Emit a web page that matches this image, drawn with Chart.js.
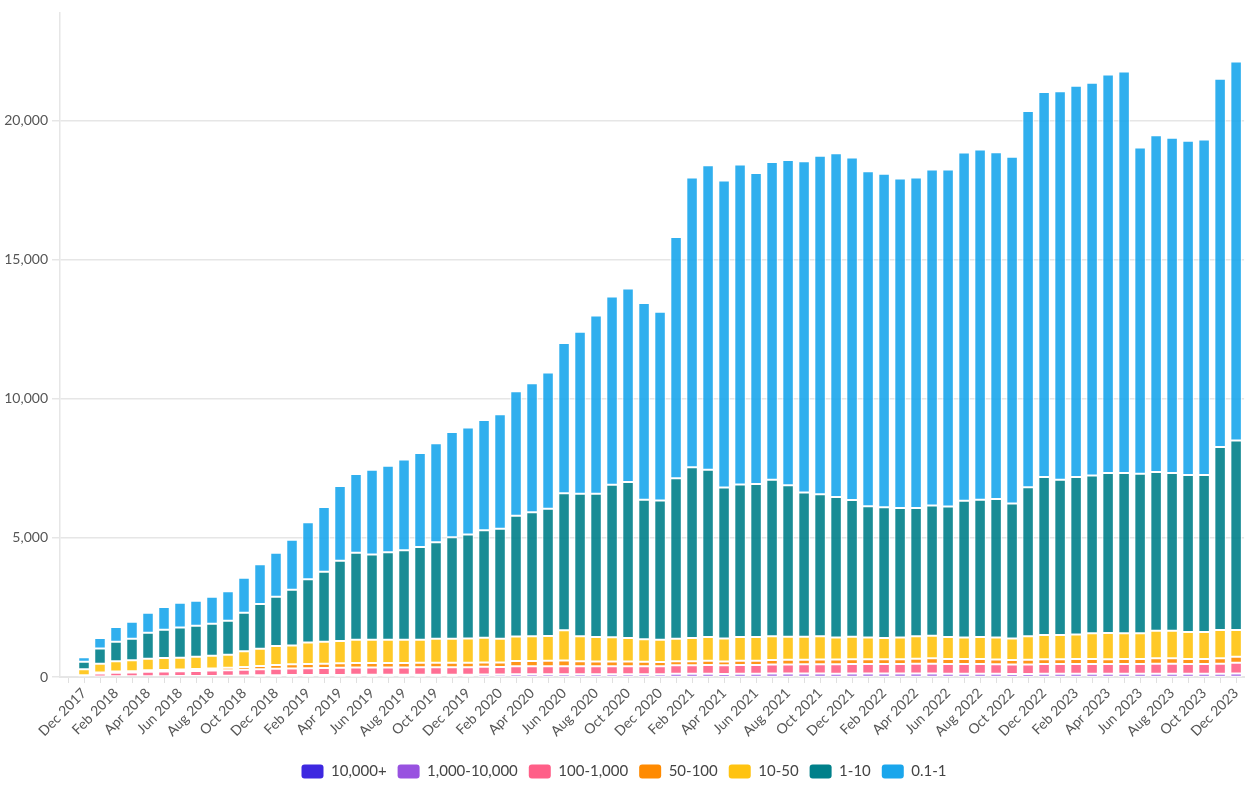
<!DOCTYPE html>
<html>
<head>
<meta charset="utf-8">
<script src="https://cdn.jsdelivr.net/npm/chart.js@4.4.1/dist/chart.umd.min.js"></script>
<style>
  html, body { margin: 0; padding: 0; background: #fff; }
  #wrap { width: 1250px; height: 785px; position: relative; }
</style>
</head>
<body>
<div id="wrap"><canvas id="chart"></canvas></div>
<script>
// monthly categories, first one is an empty slot before the data starts
const months = [
  'Nov 2017','Dec 2017',
  'Jan 2018','Feb 2018','Mar 2018','Apr 2018','May 2018','Jun 2018','Jul 2018','Aug 2018','Sep 2018','Oct 2018','Nov 2018','Dec 2018',
  'Jan 2019','Feb 2019','Mar 2019','Apr 2019','May 2019','Jun 2019','Jul 2019','Aug 2019','Sep 2019','Oct 2019','Nov 2019','Dec 2019',
  'Jan 2020','Feb 2020','Mar 2020','Apr 2020','May 2020','Jun 2020','Jul 2020','Aug 2020','Sep 2020','Oct 2020','Nov 2020','Dec 2020',
  'Jan 2021','Feb 2021','Mar 2021','Apr 2021','May 2021','Jun 2021','Jul 2021','Aug 2021','Sep 2021','Oct 2021','Nov 2021','Dec 2021',
  'Jan 2022','Feb 2022','Mar 2022','Apr 2022','May 2022','Jun 2022','Jul 2022','Aug 2022','Sep 2022','Oct 2022','Nov 2022','Dec 2022',
  'Jan 2023','Feb 2023','Mar 2023','Apr 2023','May 2023','Jun 2023','Jul 2023','Aug 2023','Sep 2023','Oct 2023','Nov 2023','Dec 2023'
];
// labelled y ticks; the axis runs up to yMax with no label there
const yTicks = [0, 5000, 10000, 15000, 20000];
const yMax = 23900;

const over10000 = [null,
  0,
  0,0,0,0,0,0,0,0,0,0,5,5,
  5,5,5,5,5,5,5,5,5,5,5,5,
  5,5,10,10,10,10,10,10,10,10,10,10,
  10,10,10,10,10,10,10,10,10,10,10,10,
  10,10,10,10,10,10,10,10,10,10,10,10,
  10,10,10,10,10,10,10,10,10,10,10,10
];
const r1000to10000 = [null,
  15,
  20,25,25,30,30,35,35,40,45,50,55,60,
  65,65,70,70,75,75,75,75,80,80,80,80,
  85,85,85,85,90,90,90,90,85,85,85,90,
  110,110,110,100,110,110,120,120,120,120,110,120,
  120,120,120,120,120,110,110,110,110,100,100,110,
  110,110,110,110,110,110,110,110,110,110,110,120
];
const r100to1000 = [null,
  30,
  110,130,140,160,170,175,180,190,200,210,220,230,
  240,245,250,255,260,260,265,265,265,270,270,270,
  275,270,290,290,290,290,290,290,290,290,290,290,
  300,300,310,310,310,310,320,320,330,330,340,340,
  340,340,340,350,350,350,350,350,340,340,340,350,
  350,350,350,350,350,350,360,360,350,350,360,380
];
const r50to100 = [null,
  20,
  30,40,45,50,55,60,70,75,85,100,120,140,
  145,150,155,160,160,160,160,160,160,160,160,160,
  160,160,190,190,190,200,180,170,170,170,160,150,
  150,150,150,140,150,150,160,170,160,170,170,170,
  170,170,170,180,190,180,180,180,170,160,170,170,
  170,180,180,170,180,180,190,190,180,180,190,220
];
const r10to50 = [null,
  210,
  319,368,389,418,427,424,445,461,472,562,617,678,
  682,780,789,803,841,841,835,831,826,860,860,873,
  888,855,877,890,898,1093,895,879,871,846,817,796,
  804,834,854,829,854,854,855,830,830,835,790,810,
  780,764,780,805,810,784,769,784,789,779,845,870,
  870,875,920,946,920,920,991,991,966,966,1021,961
];
const r1to10 = [null,
  276,
  550,706,778,934,1018,1090,1113,1149,1221,1388,1604,1772,
  1999,2274,2514,2885,3124,3064,3150,3226,3341,3469,3649,3739,
  3868,3958,4343,4459,4574,4922,5127,5153,5487,5615,5012,5012,
  5776,6139,6018,5429,5489,5504,5624,5443,5186,5111,5050,4915,
  4718,4704,4658,4613,4688,4701,4923,4938,4983,4847,5360,5678,
  5587,5663,5678,5753,5769,5738,5708,5678,5647,5647,6584,6810
];
const r01to1 = [null,
  155,
  371,527,610,718,814,885,898,970,1065,1257,1437,1580,
  1796,2047,2334,2693,2837,3052,3110,3264,3380,3560,3791,3842,
  3958,4112,4485,4639,4896,5410,5821,6412,6772,6952,7080,6785,
  8670,10417,10948,11038,11507,11190,11431,11703,11914,12171,12367,12321,
  12050,11989,11853,11882,12080,12115,12518,12594,12473,12473,13530,13846,
  13968,14073,14119,14330,14435,11733,12110,12049,12020,12065,13243,13636
];

const seriesNames = ['10,000+','1,000-10,000','100-1,000','50-100','10-50','1-10','0.1-1'];
const seriesData = [over10000, r1000to10000, r100to1000, r50to100, r10to50, r1to10, r01to1];
const solidColors = ['#3d28e0','#9852e0','#ff5f88','#ff8a00','#ffc310','#00808a','#1aa6ec'];
const barColors = ['rgba(61,40,224,0.9)','rgba(152,82,224,0.9)','rgba(255,95,136,0.9)','rgba(255,138,0,0.9)',
                   'rgba(255,195,16,0.9)','rgba(0,128,138,0.9)','rgba(26,166,236,0.9)'];

const fontFam = 'Lato, "Open Sans", sans-serif';
const textCol = '#555';
const gridCol = '#e6e6e6';

const datasets = seriesNames.map((name, i) => ({
  label: name,
  data: seriesData[i],
  backgroundColor: barColors[i],
  borderColor: '#fff',
  borderWidth: 1,
  borderSkipped: false
}));

new Chart(document.getElementById('chart'), {
  type: 'bar',
  data: { labels: months, datasets },
  options: {
    responsive: true,
    maintainAspectRatio: false,
    animation: false,
    layout: { padding: { top: 9, right: 2, left: 0, bottom: -4 } },
    scales: {
      x: {
        stacked: true,
        afterFit: s => { s.height = 76; },
        grid: { display: true, drawOnChartArea: false, drawTicks: true, tickLength: 6, offset: false, color: '#e0e0e0' },
        border: { display: true, color: gridCol, width: 2 },
        ticks: {
          autoSkip: false, maxRotation: 45, minRotation: 45, padding: 2,
          color: textCol, font: { family: fontFam, size: 14 },
          callback: (v, i) => (i % 2 === 1 ? months[i] : '')
        }
      },
      y: {
        stacked: true,
        min: 0, max: yMax,
        afterFit: s => { s.width = 60; },
        afterBuildTicks: axis => { axis.ticks = yTicks.concat([yMax]).map(v => ({ value: v })); },
        grid: {
          lineWidth: 1.5, tickLength: 8,
          color: ctx => (ctx.tick && ctx.tick.value === yMax ? 'rgba(0,0,0,0)' : gridCol)
        },
        border: { display: true, color: gridCol, width: 1.5 },
        ticks: {
          padding: 4, autoSkip: false,
          color: textCol, font: { family: fontFam, size: 14 },
          callback: v => (v === yMax ? '' : v.toLocaleString('en-US'))
        }
      }
    },
    plugins: {
      legend: {
        position: 'bottom',
        labels: {
          boxWidth: 22, boxHeight: 14, useBorderRadius: true, borderRadius: 3,
          padding: 11, color: '#444', font: { family: fontFam, size: 15 },
          generateLabels: chart => Chart.defaults.plugins.legend.labels.generateLabels(chart)
            .map((l, i) => ({ ...l, fillStyle: solidColors[i], strokeStyle: solidColors[i], lineWidth: 0 }))
        }
      },
      tooltip: { enabled: false }
    }
  }
});
</script>
</body>
</html>
